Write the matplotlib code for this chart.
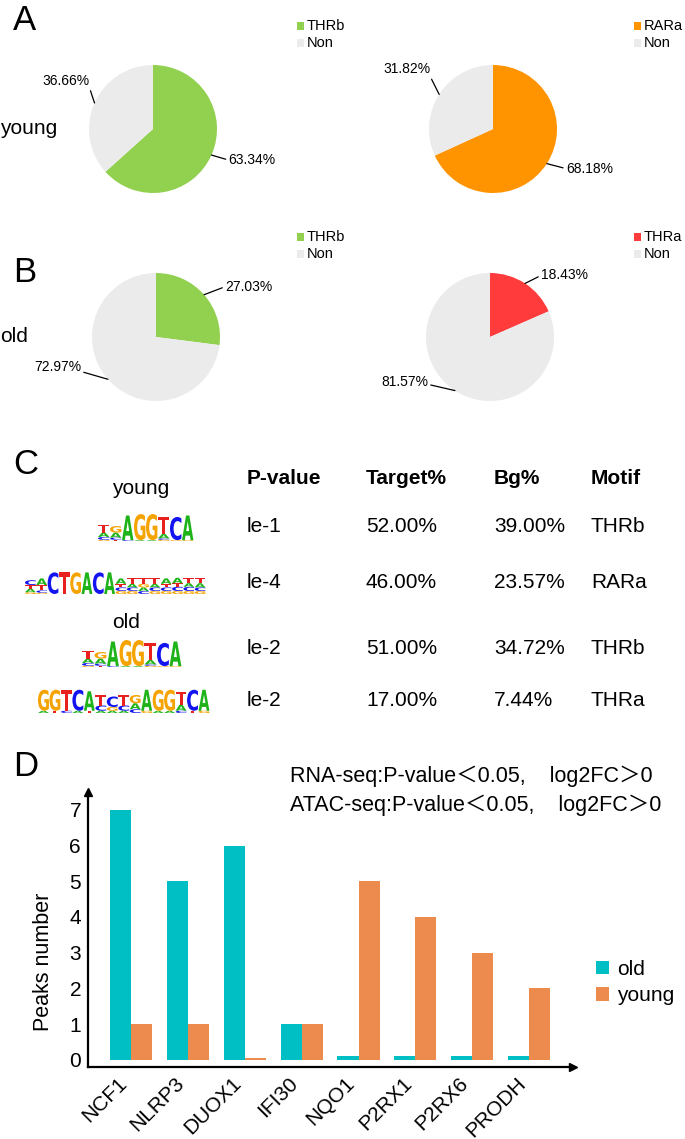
import numpy as np
import matplotlib
matplotlib.use("Agg")
import matplotlib.pyplot as plt
from matplotlib.textpath import TextPath
from matplotlib.patches import PathPatch
from matplotlib.font_manager import FontProperties
from matplotlib.transforms import Affine2D

plt.rcParams['font.family'] = ['Liberation Sans', 'Noto Sans CJK SC', 'DejaVu Sans']

# ---- data ----
pie_young_thrb = [63.34, 36.66]
pie_young_rara = [68.18, 31.82]
pie_old_thrb = [27.03, 72.97]
pie_old_thra = [18.43, 81.57]

tbl_header = ['P-value', 'Target%', 'Bg%', 'Motif']
tbl_pval = ['le-1', 'le-4', 'le-2', 'le-2']
tbl_target = ['52.00%', '46.00%', '51.00%', '17.00%']
tbl_bg = ['39.00%', '23.57%', '34.72%', '7.44%']
tbl_motif = ['THRb', 'RARa', 'THRb', 'THRa']

# motif logos, one stack per position (bottom -> top, bits)
logo_thrb = [[('G', .08), ('C', .2), ('A', .3), ('T', .55)],
             [('T', .08), ('C', .15), ('A', .35), ('G', .45)],
             [('C', .06), ('A', 1.7)],
             [('A', .06), ('G', 1.8)],
             [('A', .06), ('G', 1.8)],
             [('G', .08), ('C', .1), ('A', .3), ('T', 1.2)],
             [('G', .06), ('C', 1.6)],
             [('G', .06), ('A', 1.7)]]
logo_rara = [[('G', .15), ('A', .3), ('T', .3), ('C', .4)],
             [('G', .1), ('C', .2), ('T', .45), ('A', .55)],
             [('C', 1.8)], [('T', 1.8)], [('G', 1.8)],
             [('A', 1.8)], [('C', 1.8)], [('A', 1.8)],
             [('G', .25), ('C', .3), ('T', .3), ('A', .45)],
             [('G', .25), ('C', .3), ('A', .3), ('T', .5)],
             [('C', .25), ('A', .3), ('G', .3), ('T', .45)],
             [('G', .25), ('C', .3), ('A', .3), ('T', .45)],
             [('G', .25), ('C', .3), ('T', .3), ('A', .45)],
             [('G', .25), ('C', .35), ('T', .3), ('A', .45)],
             [('G', .25), ('C', .35), ('A', .3), ('T', .4)],
             [('G', .25), ('C', .3), ('A', .35), ('T', .45)]]
logo_thra = [[('A', .15), ('G', 1.4)], [('T', .15), ('G', 1.4)],
             [('C', .15), ('T', 1.4)], [('A', .15), ('C', 1.4)],
             [('T', .15), ('A', 1.3)],
             [('A', .15), ('C', .35), ('T', .7)],
             [('A', .15), ('G', .25), ('C', .7)],
             [('A', .15), ('C', .35), ('T', .7)],
             [('C', .25), ('A', .4), ('G', .55)],
             [('G', .15), ('A', 1.4)], [('A', .15), ('G', 1.4)],
             [('A', .15), ('G', 1.4)],
             [('C', .15), ('A', .4), ('T', .85)],
             [('T', .15), ('C', 1.4)], [('G', .15), ('A', 1.4)]]

genes = ['NCF1', 'NLRP3', 'DUOX1', 'IFI30', 'NQO1', 'P2RX1', 'P2RX6', 'PRODH']
old_peaks = [7, 5, 6, 1, 0.1, 0.1, 0.1, 0.1]
young_peaks = [1, 1, 0.05, 1, 5, 4, 3, 2]

W, H = 685, 1139
c_green = '#92D050'
c_non = '#EBEBEB'
c_orange = '#FF9400'
c_red = '#FF3B3B'
c_old = '#00BFC4'
c_young = '#ED8B4F'
base_col = {'A': '#1DB319', 'C': '#1414F0', 'G': '#F5A300', 'T': '#E8201E'}

fig = plt.figure(figsize=(W / 100, H / 100), dpi=100)
ov = fig.add_axes([0, 0, 1, 1])
ov.set_xlim(0, W)
ov.set_ylim(H, 0)
ov.axis('off')
ov.set_zorder(5)

# panel letters
for lab, y in zip('ABCD', [20, 273, 464, 766]):
    ov.text(13, y, lab, fontsize=25, ha='left', va='center')


def draw_pie(cx, cy, r, vals, cols, offs):
    ax = fig.add_axes([(cx - r) / W, 1 - (cy + r) / H, 2 * r / W, 2 * r / H])
    wedges, _ = ax.pie(vals, colors=cols, startangle=90, counterclock=False,
                       wedgeprops=dict(linewidth=0))
    ax.set_xlim(-1, 1)
    ax.set_ylim(-1, 1)
    ax.axis('off')
    for w, v, (dx, dy, ha, rp) in zip(wedges, vals, offs):
        a = np.deg2rad((w.theta1 + w.theta2) / 2)
        ax.annotate('%.2f%%' % v, xy=(np.cos(a), np.sin(a)),
                    xytext=(dx * 0.72, dy * 0.72), textcoords='offset points',
                    ha=ha, va='center', fontsize=10, annotation_clip=False,
                    arrowprops=dict(arrowstyle='-', lw=0.9, color='black',
                                    shrinkA=0, shrinkB=0, relpos=rp))
    return ax


def pie_legend(x, y, names, cols):
    for i, (n, c) in enumerate(zip(names, cols)):
        yy = y + i * 17
        ov.add_patch(plt.Rectangle((x, yy - 4), 7, 8, color=c, lw=0))
        ov.text(x + 10, yy, n, fontsize=10.5, ha='left', va='center')


draw_pie(153, 129, 64, pie_young_thrb, [c_green, c_non],
         [(17, -5, 'left', (0, 0.5)), (-5, 22, 'right', (1, 0))])
draw_pie(493, 129, 64, pie_young_rara, [c_orange, c_non],
         [(19, -5, 'left', (0, 0.5)), (-9, 25, 'right', (1, 0))])
draw_pie(156, 337, 64, pie_old_thrb, [c_green, c_non],
         [(21, 8, 'left', (0, 0.5)), (-27, 12, 'right', (1, 0.2))])
draw_pie(490, 337, 64, pie_old_thra, [c_red, c_non],
         [(16, 8, 'left', (0, 0.5)), (-27, 9, 'right', (1, 0.3))])
pie_legend(297, 26, ['THRb', 'Non'], [c_green, c_non])
pie_legend(634, 26, ['RARa', 'Non'], [c_orange, c_non])
pie_legend(297, 237, ['THRb', 'Non'], [c_green, c_non])
pie_legend(634, 237, ['THRa', 'Non'], [c_red, c_non])
ov.text(0, 128, 'young', fontsize=15, ha='left', va='center')
ov.text(0, 337, 'old', fontsize=15, ha='left', va='center')

# ---- panel C: motif table ----
fp_logo = FontProperties(family='DejaVu Sans', weight='bold')


def draw_logo(stacks, x0, x1, ybase, hbit):
    cw = (x1 - x0) / len(stacks)
    for i, st in enumerate(stacks):
        yb = ybase
        for letter, h in st:
            tp = TextPath((0, 0), letter, size=1, prop=fp_logo)
            bb = tp.get_extents()
            hh = h * hbit
            tr = (Affine2D().translate(-bb.x0, -bb.y0)
                  .scale(cw * 0.95 / bb.width, -hh / bb.height)
                  .translate(x0 + i * cw, yb))
            ov.add_patch(PathPatch(tr.transform_path(tp), color=base_col[letter], lw=0))
            yb -= hh


col_x = [247, 366, 494, 591]
row_y = [526, 582, 648, 701]
for x, t in zip(col_x, tbl_header):
    ov.text(x, 479, t, fontsize=15, fontweight='bold', ha='left', va='center')
for i, y in enumerate(row_y):
    for x, t in zip(col_x, [tbl_pval[i], tbl_target[i], tbl_bg[i], tbl_motif[i]]):
        ov.text(x, y, t, fontsize=15, ha='left', va='center')
ov.text(141, 489, 'young', fontsize=15, ha='center', va='center')
ov.text(126, 623, 'old', fontsize=15, ha='center', va='center')
draw_logo(logo_thrb, 98, 194, 541, 14.5)
draw_logo(logo_rara, 25, 206, 594, 12)
draw_logo(logo_thrb, 82, 182, 667, 14.5)
draw_logo(logo_thra, 38, 210, 713, 15)

# ---- panel D: bar chart ----
ax = fig.add_axes([88 / W, 1 - 1067 / H, (573 - 88) / W, (1067 - 792) / H])
ax.patch.set_visible(False)
x = np.arange(len(genes))
bw = 0.37
ax.bar(x - bw / 2, old_peaks, bw, color=c_old, label='old')
ax.bar(x + bw / 2, young_peaks, bw, color=c_young, label='young')
ax.set_xlim(-0.756, 7.77)
ax.set_ylim(-0.2, 7.5)
ax.set_yticks(range(8))
ax.set_xticks(x)
ax.set_xticklabels(genes, rotation=45, ha='right')
ax.tick_params(length=0, labelsize=15, pad=5)
for s in ['top', 'right']:
    ax.spines[s].set_visible(False)
for s in ['left', 'bottom']:
    ax.spines[s].set_linewidth(1.6)
ax.plot(1, 0, '>k', ms=6, transform=ax.transAxes, clip_on=False)
ax.plot(0, 1, '^k', ms=6, transform=ax.transAxes, clip_on=False)
ax.legend(loc='upper left', bbox_to_anchor=(596 / W, 1 - 960 / H),
          bbox_transform=fig.transFigure, frameon=False, fontsize=15,
          handlelength=0.6, handleheight=0.6, handletextpad=0.4,
          labelspacing=0.35, borderaxespad=0, borderpad=0)
ov.text(44, 962, 'Peaks number', fontsize=15.5, rotation=90, ha='center', va='center')
ov.text(290, 776, 'RNA-seq:P-value\uff1c0.05,    log2FC\uff1e0', fontsize=15.5,
        ha='left', va='center')
ov.text(290, 805, 'ATAC-seq:P-value\uff1c0.05,    log2FC\uff1e0', fontsize=15.5,
        ha='left', va='center')

fig.savefig('out.png', dpi=100)
